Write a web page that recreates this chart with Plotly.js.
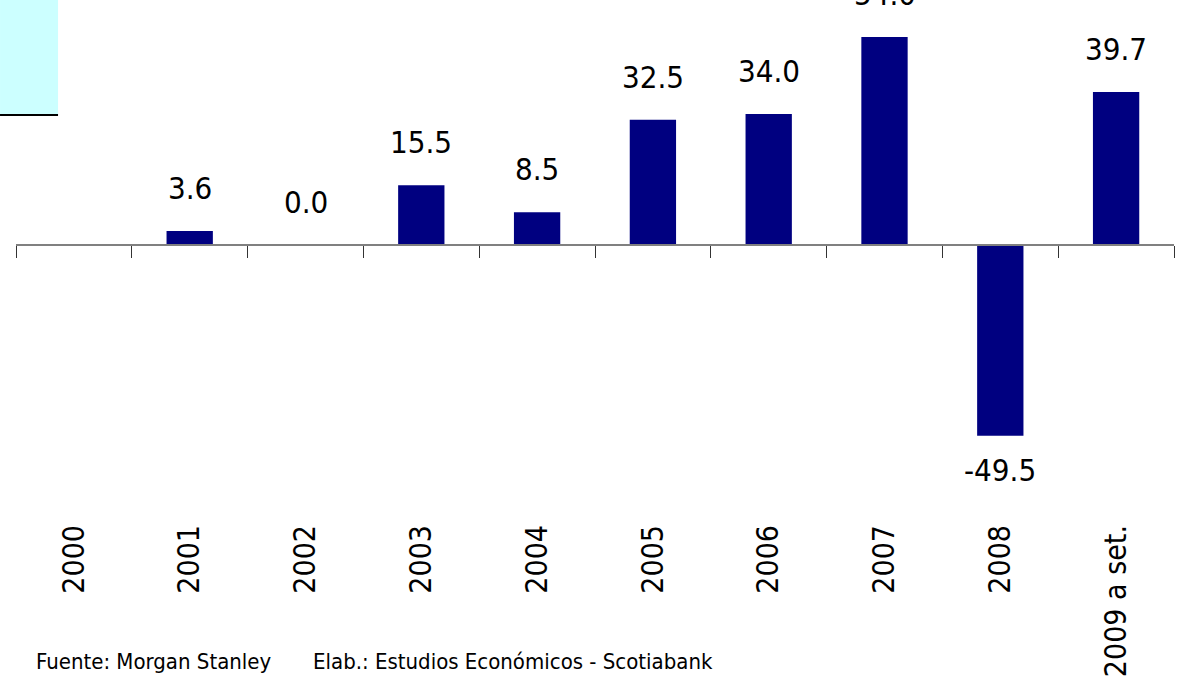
<!DOCTYPE html>
<html>
<head>
<meta charset="utf-8">
<script src="https://cdn.plot.ly/plotly-3.0.1.min.js"></script>
<style>html,body{margin:0;padding:0;background:#fff;}#chart{width:1177px;height:686px;}</style>
</head>
<body>
<div id="chart"></div>
<script>
const categories = ["2000","2001","2002","2003","2004","2005","2006","2007","2008","2009 a set."];
const values = [null, 3.6, 0.0, 15.5, 8.5, 32.5, 34.0, 54.0, -49.5, 39.7];
const labels = ["", "3.6", "0.0", "15.5", "8.5", "32.5", "34.0", "54.0", "-49.5", "39.7"];
const sourceText = "Fuente: Morgan Stanley";
const elabText = "Elab.: Estudios Económicos - Scotiabank";

const FONT = "'DejaVu Sans Condensed', 'Liberation Sans Narrow', 'Arial Narrow', sans-serif";
const yMin = -71.4, yMax = 63.6;
const zeroPos = (0 - yMin) / (yMax - yMin);

const trace = {
  type: "bar",
  x: categories,
  y: values,
  marker: {color: "#000080"},
  hoverinfo: "x+y",
  showlegend: false
};

const annotations = [];
categories.forEach((c, i) => {
  if (values[i] === null) return;
  const neg = values[i] < 0;
  annotations.push({
    x: i, y: values[i], xref: "x", yref: "y",
    text: labels[i], showarrow: false,
    yanchor: "middle", yshift: neg ? -34 : 43,
    font: {family: FONT, size: 31, color: "#000"}
  });
});
annotations.push({
  xref: "paper", yref: "paper", x: 0.0155, y: -0.273, xanchor: "left", yanchor: "middle",
  text: sourceText, showarrow: false, font: {family: FONT, size: 22, color: "#000"}
});
annotations.push({
  xref: "paper", yref: "paper", x: 0.2547, y: -0.273, xanchor: "left", yanchor: "middle",
  text: elabText, showarrow: false, font: {family: FONT, size: 22, color: "#000"}
});

const layout = {
  width: 1177, height: 686,
  margin: {l: 16, r: 3, t: 0, b: 166},
  paper_bgcolor: "#fff", plot_bgcolor: "rgba(0,0,0,0)",
  bargap: 0.6,
  xaxis: {
    type: "category",
    categoryorder: "array", categoryarray: categories,
    range: [-0.5, categories.length - 0.5], autorange: false,
    anchor: "free", position: zeroPos,
    showline: true, linecolor: "#808080", linewidth: 2,
    tickson: "boundaries", ticks: "outside", ticklen: 12, tickcolor: "#333", tickwidth: 1,
    tickangle: -90, ticklabelstandoff: 267,
    tickfont: {family: FONT, size: 30, color: "#000"},
    showgrid: false, zeroline: false, fixedrange: true
  },
  yaxis: {
    range: [yMin, yMax], autorange: false, visible: false, showgrid: false, zeroline: false, fixedrange: true
  },
  shapes: [
    {type: "rect", xref: "paper", yref: "paper", x0: -0.0138, x1: 0.0363, y0: 0.779, y1: 1.0,
     fillcolor: "#CCFFFF", line: {width: 0}, layer: "below"},
    {type: "line", xref: "paper", yref: "paper", x0: -0.0138, x1: 0.0363, y0: 0.779, y1: 0.779,
     line: {color: "#000", width: 2}}
  ],
  annotations: annotations
};

Plotly.newPlot("chart", [trace], layout, {displayModeBar: false, staticPlot: true});
</script>
</body>
</html>
